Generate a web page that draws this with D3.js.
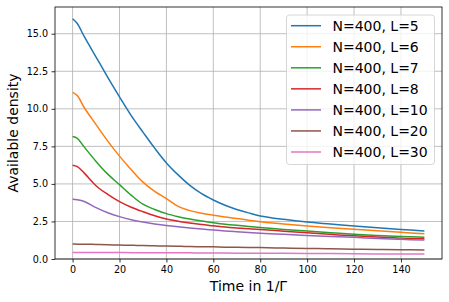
<!DOCTYPE html>
<html>
<head>
<meta charset="utf-8">
<script src="https://cdn.jsdelivr.net/npm/d3@7"></script>
<style>
  body { margin: 0; background: #fff; }
  svg { display: block; font-family: "DejaVu Sans", sans-serif; }
</style>
</head>
<body>
<svg id="chart" width="449" height="302"></svg>
<script>
// time axis shared by all curves
var times = [0, 2, 5, 10, 15, 20, 25, 30, 35, 40, 45, 50, 55, 60, 65, 70, 75, 80, 90, 100, 110, 120, 130, 140, 150];

var densL5  = [16.0, 15.68, 14.8, 13.45, 12.1, 10.8, 9.55, 8.45, 7.38, 6.4, 5.6, 4.9, 4.35, 3.93, 3.58, 3.3, 3.07, 2.87, 2.64, 2.46, 2.33, 2.2, 2.08, 1.97, 1.87];
var densL6  = [11.1, 10.88, 10.07, 8.95, 7.85, 6.85, 5.95, 5.12, 4.5, 4.02, 3.5, 3.22, 3.05, 2.92, 2.8, 2.7, 2.58, 2.48, 2.33, 2.2, 2.08, 1.98, 1.88, 1.78, 1.68];
var densL7  = [8.15, 8.03, 7.45, 6.5, 5.65, 4.95, 4.25, 3.65, 3.3, 3.02, 2.82, 2.66, 2.53, 2.42, 2.32, 2.24, 2.17, 2.1, 1.97, 1.86, 1.75, 1.65, 1.57, 1.5, 1.44];
var densL8  = [6.25, 6.15, 5.72, 4.88, 4.3, 3.82, 3.45, 3.15, 2.88, 2.67, 2.52, 2.4, 2.29, 2.21, 2.13, 2.07, 2.02, 1.97, 1.85, 1.74, 1.64, 1.54, 1.46, 1.39, 1.35];
var densL10 = [3.98, 3.95, 3.83, 3.42, 3.08, 2.82, 2.62, 2.46, 2.33, 2.23, 2.14, 2.06, 1.99, 1.93, 1.87, 1.82, 1.77, 1.72, 1.64, 1.57, 1.5, 1.44, 1.37, 1.31, 1.26];
var densL20 = [1.0, 0.99, 0.98, 0.97, 0.95, 0.93, 0.91, 0.9, 0.88, 0.86, 0.85, 0.83, 0.82, 0.81, 0.79, 0.78, 0.77, 0.76, 0.73, 0.7, 0.68, 0.65, 0.63, 0.62, 0.6];
var densL30 = [0.44, 0.44, 0.44, 0.43, 0.43, 0.43, 0.42, 0.42, 0.42, 0.41, 0.41, 0.41, 0.4, 0.4, 0.4, 0.39, 0.39, 0.39, 0.38, 0.37, 0.36, 0.35, 0.34, 0.34, 0.33];

var seriesNames = ["N=400, L=5", "N=400, L=6", "N=400, L=7", "N=400, L=8", "N=400, L=10", "N=400, L=20", "N=400, L=30"];
var seriesValues = [densL5, densL6, densL7, densL8, densL10, densL20, densL30];

var xTicks = [0, 20, 40, 60, 80, 100, 120, 140];
var yTicks = [0, 2.5, 5, 7.5, 10, 12.5, 15];

var colors = ["#1f77b4", "#ff7f0e", "#2ca02c", "#d62728", "#9467bd", "#8c564b", "#e377c2"];

var svg = d3.select("#chart");
// plot box in pixels (note: "top" would clash with window.top)
var pLeft = 55, pRight = 442, pTop = 7, pBottom = 259;

var x = d3.scaleLinear().domain([-7.5, 157.5]).range([pLeft, pRight]);
var y = d3.scaleLinear().domain([0, 16.78]).range([pBottom, pTop]);

// grid
svg.append("g").selectAll("line").data(xTicks).enter().append("line")
    .attr("x1", function(d) { return x(d); }).attr("x2", function(d) { return x(d); })
    .attr("y1", pTop).attr("y2", pBottom)
    .attr("stroke", "#b0b0b0").attr("stroke-width", 0.8);
svg.append("g").selectAll("line").data(yTicks).enter().append("line")
    .attr("x1", pLeft).attr("x2", pRight)
    .attr("y1", function(d) { return y(d); }).attr("y2", function(d) { return y(d); })
    .attr("stroke", "#b0b0b0").attr("stroke-width", 0.8);

// curves
var line = d3.line()
    .x(function(d) { return x(d[0]); })
    .y(function(d) { return y(d[1]); })
    .curve(d3.curveCatmullRom.alpha(0.5));

seriesValues.forEach(function(vals, i) {
    svg.append("path")
        .datum(times.map(function(t, j) { return [t, vals[j]]; }))
        .attr("d", line)
        .attr("fill", "none")
        .attr("stroke", colors[i])
        .attr("stroke-width", 1.5);
});

// axes
var xAxis = svg.append("g").attr("transform", "translate(0," + pBottom + ")")
    .call(d3.axisBottom(x).tickValues(xTicks).tickSize(3.5).tickPadding(3.5).tickFormat(d3.format("d")));
var yAxis = svg.append("g").attr("transform", "translate(" + pLeft + ",0)")
    .call(d3.axisLeft(y).tickValues(yTicks).tickSize(3.5).tickPadding(3.5).tickFormat(d3.format(".1f")));
[xAxis, yAxis].forEach(function(a) {
    a.select(".domain").remove();
    a.selectAll("line").attr("stroke", "#000").attr("stroke-width", 0.8);
    a.selectAll("text").attr("font-family", "DejaVu Sans").attr("font-size", "9.6px").attr("fill", "#000");
});

// frame
svg.append("rect")
    .attr("x", pLeft).attr("y", pTop)
    .attr("width", pRight - pLeft).attr("height", pBottom - pTop)
    .attr("fill", "none").attr("stroke", "#000").attr("stroke-width", 0.8);

// labels
svg.append("text")
    .attr("x", (pLeft + pRight) / 2).attr("y", 291)
    .attr("text-anchor", "middle").attr("font-size", "14px")
    .text("Time in 1/Γ");
svg.append("text")
    .attr("transform", "translate(18," + ((pTop + pBottom) / 2) + ") rotate(-90)")
    .attr("text-anchor", "middle").attr("font-size", "14px")
    .text("Available density");

// legend
var legend = svg.append("g");
legend.append("rect")
    .attr("x", 286.5).attr("y", 15)
    .attr("width", 148).attr("height", 149.5)
    .attr("rx", 3).attr("ry", 3)
    .attr("fill", "#fff").attr("fill-opacity", 0.8)
    .attr("stroke", "#cccccc").attr("stroke-width", 0.8);

var item = legend.selectAll("g.item").data(seriesNames).enter().append("g")
    .attr("class", "item")
    .attr("transform", function(d, i) { return "translate(0," + (25.7 + i * 21.05) + ")"; });
item.append("line")
    .attr("x1", 291).attr("x2", 321).attr("y1", 0).attr("y2", 0)
    .attr("stroke", function(d, i) { return colors[i]; })
    .attr("stroke-width", 1.5);
item.append("text")
    .attr("x", 332.5).attr("y", 0).attr("dy", "0.36em")
    .attr("font-size", "14px")
    .text(function(d) { return d; });
</script>
</body>
</html>
